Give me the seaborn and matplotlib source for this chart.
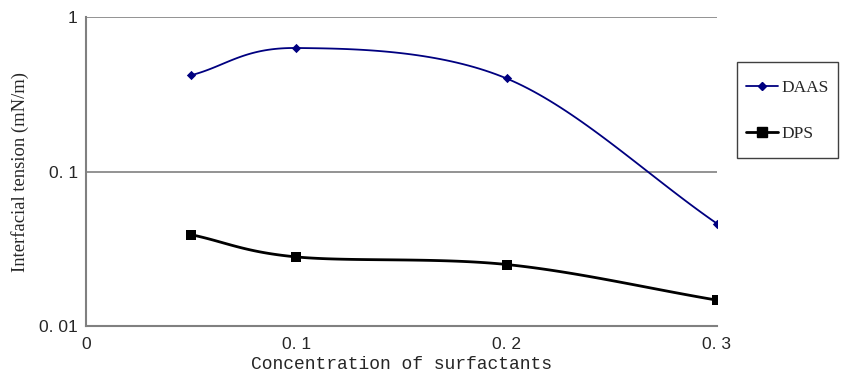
import numpy as np
import pandas as pd
import matplotlib
matplotlib.use("Agg")
import matplotlib.pyplot as plt
import seaborn as sns
from matplotlib.lines import Line2D
from matplotlib.patches import Rectangle

conc = [0.05, 0.1, 0.2, 0.3]
daas = [0.42, 0.63, 0.40, 0.046]
dps = [0.039, 0.028, 0.025, 0.0147]
series_names = ["DAAS", "DPS"]
x_ticks = [0, 0.1, 0.2, 0.3]
x_tick_labels = ["0", "0. 1", "0. 2", "0. 3"]
y_ticks = [0.01, 0.1, 1]
y_tick_labels = ["0. 01", "0. 1", "1"]

sns.set_theme(style="white")
plt.rcParams['font.family'] = ['Liberation Serif', 'DejaVu Serif']
tick_font = ['Liberation Sans', 'DejaVu Sans']


def smooth(xs, ys, n=40):
    # Catmull-Rom spline in (x, log10 y) space, like spreadsheet smoothed lines
    x = np.asarray(xs, float)
    y = np.log10(np.asarray(ys, float))
    px = np.concatenate([[2 * x[0] - x[1]], x, [2 * x[-1] - x[-2]]])
    py = np.concatenate([[2 * y[0] - y[1]], y, [2 * y[-1] - y[-2]]])
    ox, oy = [], []
    for i in range(1, len(px) - 2):
        t = np.linspace(0, 1, n, endpoint=(i == len(px) - 3))
        for P, out in ((px, ox), (py, oy)):
            p0, p1, p2, p3 = P[i - 1], P[i], P[i + 1], P[i + 2]
            out.extend(0.5 * ((2 * p1) + (-p0 + p2) * t + (2 * p0 - 5 * p1 + 4 * p2 - p3) * t ** 2
                              + (-p0 + 3 * p1 - 3 * p2 + p3) * t ** 3))
    return np.array(ox), 10 ** np.array(oy)


fig = plt.figure(figsize=(8.41, 3.75), dpi=100)
ax = fig.add_axes([86 / 841, 1 - 326 / 375, (717 - 86) / 841, (326 - 17) / 375])

colors = {"DAAS": "#000080", "DPS": "#000000"}
markers = {"DAAS": "D", "DPS": "s"}
msizes = {"DAAS": 4, "DPS": 6}
lws = {"DAAS": 1.3, "DPS": 2.0}

for name, vals in zip(series_names, [daas, dps]):
    sx, sy = smooth(conc, vals)
    df_line = pd.DataFrame({"x": sx, "y": sy})
    sns.lineplot(data=df_line, x="x", y="y", sort=False, color=colors[name],
                 linewidth=lws[name], ax=ax, zorder=3)
    df_pts = pd.DataFrame({"x": conc, "y": vals})
    sns.scatterplot(data=df_pts, x="x", y="y", marker=markers[name], color=colors[name],
                    s=msizes[name] ** 2 * 1.4, edgecolor=colors[name], linewidth=0, ax=ax, zorder=4)

ax.set_yscale("log")
ax.set_ylim(0.01, 1)
ax.set_xlim(0, 0.3)
ax.set_yticks(y_ticks)
ax.set_yticklabels(y_tick_labels, family=tick_font)
ax.yaxis.set_minor_locator(matplotlib.ticker.NullLocator())
ax.set_xticks(x_ticks)
ax.set_xticklabels(x_tick_labels, family=tick_font)
ax.tick_params(axis="x", direction="in", length=4, width=1, color="#808080", labelsize=12.5, pad=8)
ax.tick_params(axis="y", length=0, labelsize=12.5, pad=6)

for y in [0.1, 1]:
    ax.axhline(y, color="#808080", linewidth=1.2, zorder=1)

for s in ["top", "right"]:
    ax.spines[s].set_visible(False)
for s in ["left", "bottom"]:
    ax.spines[s].set_color("#808080")
    ax.spines[s].set_linewidth(1.5)

ax.set_xlabel("Concentration of surfactants", family=['Liberation Mono', 'DejaVu Sans Mono'],
              fontsize=13, labelpad=3)
ax.set_ylabel("Interfacial tension (mN/m)", fontsize=13.4, labelpad=7)

# legend frame
fig.patches.append(Rectangle((737 / 841, 1 - 158 / 375), (838 - 737) / 841, (158 - 62) / 375,
                             transform=fig.transFigure, fill=False, edgecolor="#404040",
                             linewidth=1.0))
handles = [Line2D([], [], color=colors[n], marker=markers[n], markersize=msizes[n] + 0.5,
                  linewidth=lws[n]) for n in series_names]
leg = fig.legend(handles, series_names, loc="center",
                 bbox_to_anchor=(787.5 / 841, 1 - 111 / 375),
                 frameon=False, fontsize=12.5, labelspacing=1.75,
                 handlelength=1.8, handletextpad=0.2, borderpad=0, borderaxespad=0)

fig.savefig("out.png", dpi=100, facecolor="white")
